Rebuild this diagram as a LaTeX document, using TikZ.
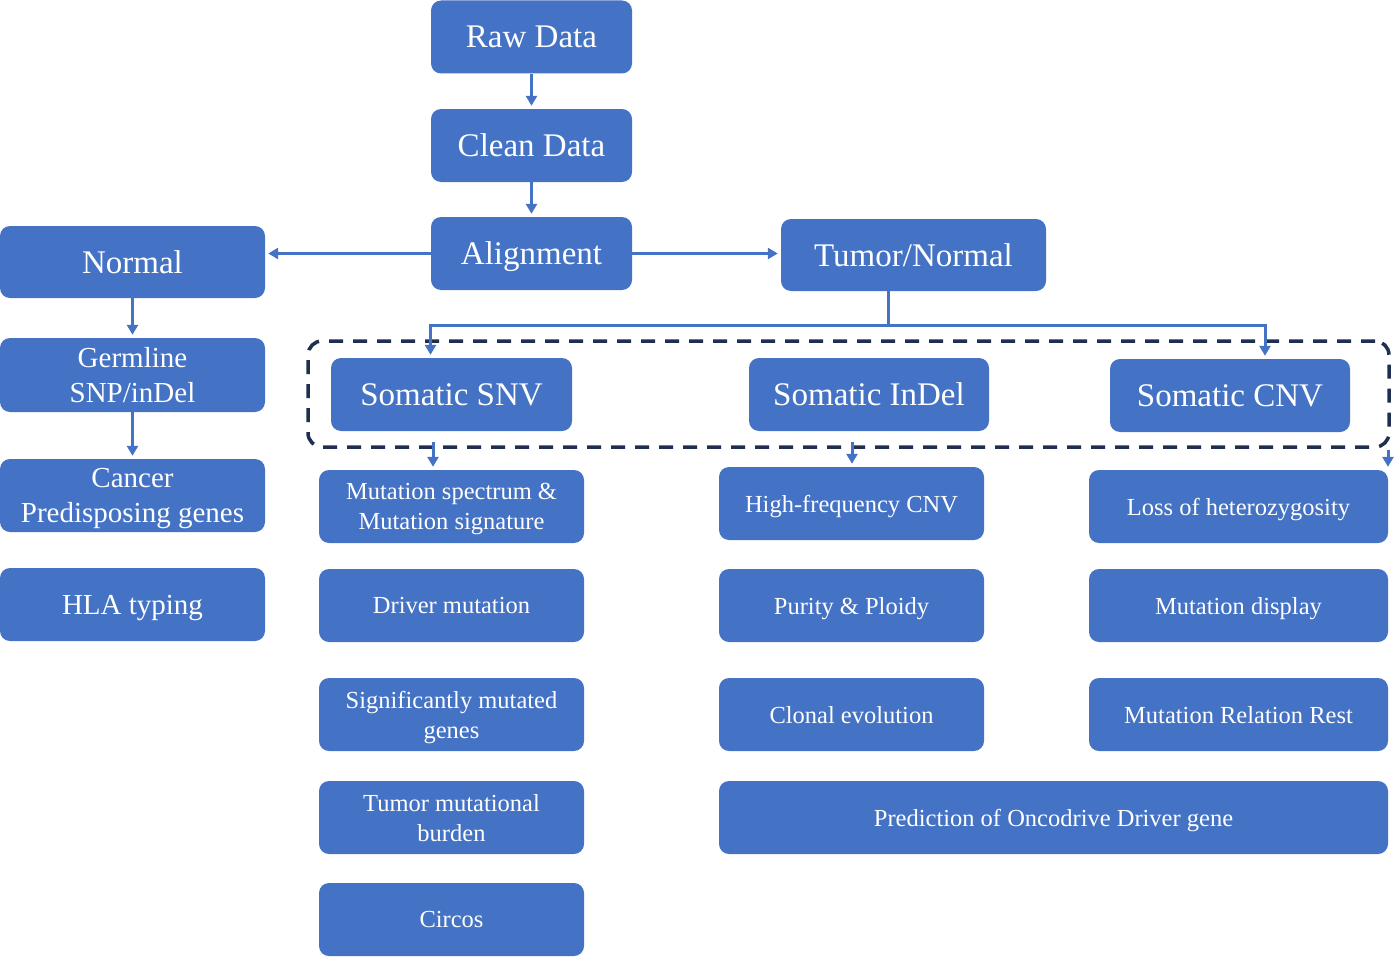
\documentclass[tikz,border=0pt]{standalone}
\usepackage{fontspec}
\setmainfont{Liberation Serif}
\usetikzlibrary{arrows.meta,calc}
\definecolor{boxblue}{HTML}{4472C4}
\definecolor{navy}{HTML}{1F2F50}
\tikzset{
  box/.style={fill=boxblue, rounded corners=10pt, text=white, inner sep=0pt, align=center, text depth=0pt},
  big/.style={font=\fontsize{33}{36}\selectfont},
  mid/.style={font=\fontsize{29}{35}\selectfont},
  small/.style={font=\fontsize{24.5}{30}\selectfont},
  conn/.style={draw=boxblue, line width=3pt},
  arr/.style={draw=boxblue, line width=3pt, -{Triangle[width=11pt,length=10pt]}, shorten >=3pt},
  dashbox/.style={draw=navy, line width=3.5pt, dash pattern=on 14pt off 10pt, rounded corners=14pt, inner sep=0pt}
}
\begin{document}
\begin{tikzpicture}[x=1pt,y=-1pt]
\useasboundingbox (0,0) rectangle (1395,958);
% top column
\node[box,big,minimum width=201pt,minimum height=73pt] (raw) at (531.5,37) {Raw Data};
\node[box,big,minimum width=201pt,minimum height=73pt] (clean) at (531.5,145.5) {Clean Data};
\node[box,big,minimum width=201pt,minimum height=73pt] (align) at (531.5,253.5) {Alignment};
\node[box,big,minimum width=265pt,minimum height=72pt] (normal) at (132.5,262) {Normal};
\node[box,big,minimum width=265pt,minimum height=72pt] (tumor) at (913.5,255) {Tumor/Normal};
% left column
\node[box,mid,minimum width=265pt,minimum height=74pt] (germ) at (132.5,375) {Germline\\SNP/inDel};
\node[box,mid,minimum width=265pt,minimum height=73pt] (cancer) at (132.5,495.5) {Cancer\\Predisposing genes};
\node[box,mid,minimum width=265pt,minimum height=73pt] (hla) at (132.5,604.5) {HLA typing};
% dashed group
\node[dashbox,minimum width=1081pt,minimum height=106pt] (group) at (848.5,394) {};
\node[box,big,minimum width=241pt,minimum height=73pt] (snv) at (451.5,394.5) {Somatic SNV};
\node[box,big,minimum width=240pt,minimum height=73pt] (indel) at (869,394.5) {Somatic InDel};
\node[box,big,minimum width=240pt,minimum height=73pt] (cnv) at (1230,395.5) {Somatic CNV};
% column 1
\node[box,small,minimum width=265pt,minimum height=73pt] (spec) at (451.5,506.5) {Mutation spectrum \&\\Mutation signature};
\node[box,small,minimum width=265pt,minimum height=73pt] (driver) at (451.5,605.5) {Driver mutation};
\node[box,small,minimum width=265pt,minimum height=73pt] (sig) at (451.5,714.5) {Significantly mutated\\genes};
\node[box,small,minimum width=265pt,minimum height=73pt] (tmb) at (451.5,817.5) {Tumor mutational\\burden};
\node[box,small,minimum width=265pt,minimum height=73pt] (circos) at (451.5,919.5) {Circos};
% column 2
\node[box,small,minimum width=265pt,minimum height=73pt] (hfcnv) at (851.5,503.5) {High-frequency CNV};
\node[box,small,minimum width=265pt,minimum height=73pt] (purity) at (851.5,605.5) {Purity \& Ploidy};
\node[box,small,minimum width=265pt,minimum height=73pt] (clonal) at (851.5,714.5) {Clonal evolution};
\node[box,small,minimum width=669pt,minimum height=73pt] (pred) at (1053.5,817.5) {Prediction of Oncodrive Driver gene};
% column 3
\node[box,small,minimum width=299pt,minimum height=73pt] (loh) at (1238.5,506.5) {Loss of heterozygosity};
\node[box,small,minimum width=299pt,minimum height=73pt] (disp) at (1238.5,605.5) {Mutation display};
\node[box,small,minimum width=299pt,minimum height=73pt] (rel) at (1238.5,714.5) {Mutation Relation Rest};
% connectors
\draw[arr] (raw) -- (clean);
\draw[arr] (clean) -- (align);
\draw[arr] (align.west) -- (normal.east |- align.west);
\draw[arr] (align.east) -- (tumor.west |- align.east);
\draw[arr] (normal) -- (germ);
\draw[arr] (germ) -- (cancer);
\coordinate (split) at (888,325);
\draw[conn] (tumor.south -| split) -- (split);
\draw[arr] (split) -| ([xshift=-21pt]snv.north);
\draw[arr] (split) -| ([xshift=35pt]cnv.north);
\coordinate (s1) at (433,442);
\coordinate (s2) at (852,442);
\coordinate (s3) at (1388,450);
\draw[arr] (s1) -- (s1 |- spec.north);
\draw[arr] (s2) -- (s2 |- hfcnv.north);
\draw[arr] (s3) -- (s3 |- loh.north);
\end{tikzpicture}
\end{document}
